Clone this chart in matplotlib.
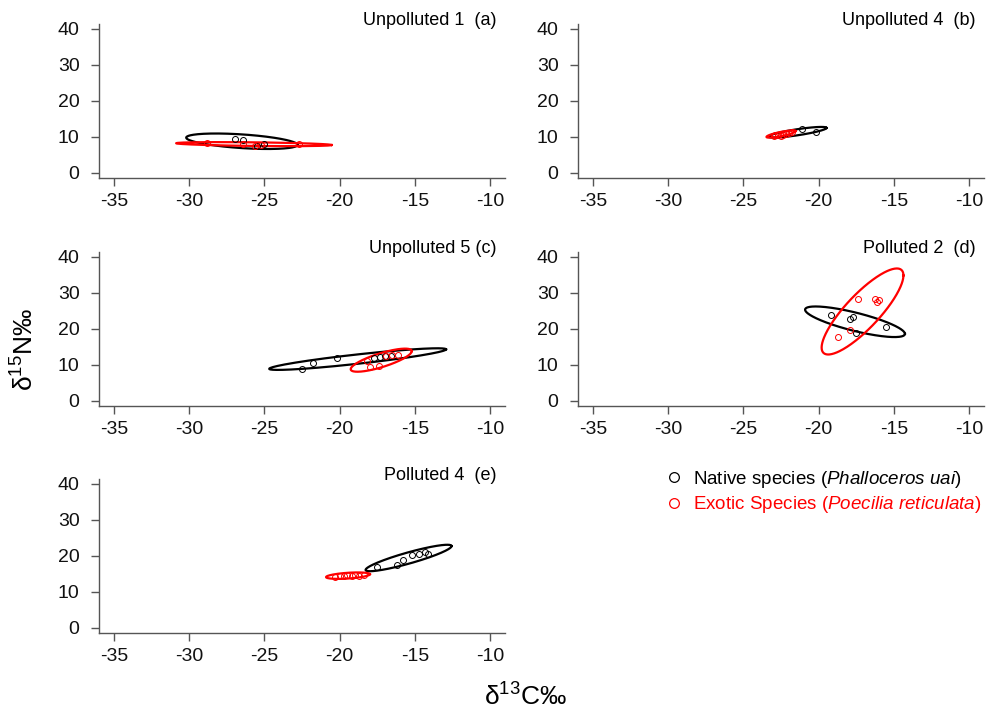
import numpy as np
import matplotlib
matplotlib.use("Agg")
import matplotlib.pyplot as plt
from matplotlib.lines import Line2D

plt.rcParams['font.family'] = ['Liberation Sans', 'DejaVu Sans']
plt.rcParams['mathtext.fontset'] = 'custom'
plt.rcParams['mathtext.rm'] = 'Liberation Sans'
plt.rcParams['mathtext.it'] = 'Liberation Sans:italic'
plt.rcParams['axes.unicode_minus'] = False

# panel titles
titles = ["Unpolluted 1  (a)", "Unpolluted 4  (b)", "Unpolluted 5 (c)",
          "Polluted 2  (d)", "Polluted 4  (e)"]

x_ticks = [-35, -30, -25, -20, -15, -10]
y_ticks = [0, 10, 20, 30, 40]

# d13C / d15N values, native (Phalloceros uai) and exotic (Poecilia reticulata)
native_a_x = [-26.95, -26.4, -25.0, -25.5]
native_a_y = [9.4, 9.1, 8.0, 7.4]
exotic_a_x = [-28.8, -26.4, -25.6, -25.2, -22.7]
exotic_a_y = [8.3, 7.9, 7.6, 7.8, 8.0]

native_b_x = [-21.1, -20.2]
native_b_y = [12.1, 11.4]
exotic_b_x = [-23.0, -22.7, -22.4, -22.2, -22.0, -21.8, -22.5, -22.9]
exotic_b_y = [10.2, 10.5, 10.6, 10.9, 11.2, 11.4, 10.2, 10.6]

native_c_x = [-22.5, -21.8, -20.2, -17.7, -17.3, -17.0, -16.6]
native_c_y = [8.8, 10.4, 12.0, 12.0, 12.3, 12.5, 12.4]
exotic_c_x = [-18.2, -18.0, -17.4, -16.9, -16.5, -16.1]
exotic_c_y = [11.0, 9.3, 9.6, 12.4, 12.7, 12.8]

native_d_x = [-19.2, -17.9, -17.7, -17.5, -15.5]
native_d_y = [23.7, 22.8, 23.4, 18.9, 20.4]
exotic_d_x = [-18.7, -17.9, -17.4, -16.25, -16.0, -16.1]
exotic_d_y = [17.6, 19.6, 28.2, 28.3, 28.0, 27.3]

native_e_x = [-17.5, -16.2, -15.8, -15.2, -14.7, -14.3, -14.1]
native_e_y = [17.0, 17.5, 18.8, 20.2, 20.4, 21.1, 20.5]
exotic_e_x = [-20.3, -20.0, -19.7, -19.5, -19.2, -19.0, -18.7, -18.4]
exotic_e_y = [14.2, 14.5, 14.3, 14.6, 14.4, 14.7, 14.5, 14.8]

# ellipses: centre x, centre y, half x-range,
# y offset at the rightmost point, half vertical chord through centre
native_ell = [[-26.5, 8.8, 3.7, -1.0, 1.9],
              [-21.4, 11.3, 1.93, 1.2, 0.85],
              [-18.8, 11.6, 5.88, 2.7, 1.3],
              [-17.58, 21.95, 3.32, -3.35, 2.6],
              [-15.41, 19.4, 2.86, 3.3, 1.6]]
exotic_ell = [[-25.7, 8.0, 5.17, -0.25, 0.5],
              [-22.5, 10.8, 0.97, 0.8, 0.6],
              [-17.23, 11.3, 2.03, 2.5, 2.0],
              [-17.08, 24.8, 2.72, 10.0, 6.5],
              [-19.44, 14.5, 1.46, 0.4, 0.8]]

native_x = [native_a_x, native_b_x, native_c_x, native_d_x, native_e_x]
native_y = [native_a_y, native_b_y, native_c_y, native_d_y, native_e_y]
exotic_x = [exotic_a_x, exotic_b_x, exotic_c_x, exotic_d_x, exotic_e_x]
exotic_y = [exotic_a_y, exotic_b_y, exotic_c_y, exotic_d_y, exotic_e_y]

fig = plt.figure(figsize=(9.98, 7.11), dpi=100)

col_left = [0.0992, 0.5792]
row_bottom = [0.7496, 0.429, 0.1097]
w, h_ax = 0.4068, 0.2166

spine_col = '#555555'
t = np.linspace(0, 2 * np.pi, 300)

for i in range(5):
    r, c = divmod(i, 2)
    ax = fig.add_axes([col_left[c], row_bottom[r], w, h_ax])
    ax.set_xlim(-36, -9)
    ax.set_ylim(-1.4, 41.3)
    for s in ['top', 'right']:
        ax.spines[s].set_visible(False)
    for s in ['left', 'bottom']:
        ax.spines[s].set_color(spine_col)
        ax.spines[s].set_linewidth(1.0)
    ax.set_xticks(x_ticks)
    ax.set_yticks(y_ticks)
    ax.tick_params(length=6, width=1.0, color=spine_col, labelsize=14,
                   labelcolor='#111111')
    ax.tick_params(axis='y', pad=8)
    ax.tick_params(axis='x', pad=5)

    for ell, col in [(native_ell[i], 'black'), (exotic_ell[i], 'red')]:
        cx, cy, dx, dy, hh = ell
        ax.plot(cx + dx * np.cos(t), cy + dy * np.cos(t) + hh * np.sin(t),
                color=col, lw=1.6)

    ax.plot(native_x[i], native_y[i], 'o', mfc='none', mec='black',
            ms=4.3, mew=0.7)
    ax.plot(exotic_x[i], exotic_y[i], 'o', mfc='none', mec='red',
            ms=4.3, mew=0.7)

    ax.text(0.98, 1.02, titles[i], transform=ax.transAxes, ha='right',
            va='center', fontsize=13)

fig.text(0.025, 0.508, 'δ$^{15}$N‰', rotation=90, ha='center', va='center',
         fontsize=19)
fig.text(0.526, 0.02, 'δ$^{13}$C‰', ha='center', va='center', fontsize=19)

handles = [Line2D([], [], ls='none', marker='o', mfc='none', mec='black',
                  ms=7, mew=0.9),
           Line2D([], [], ls='none', marker='o', mfc='none', mec='red',
                  ms=7, mew=0.9)]
labels = ['Native species ($\\it{Phalloceros\\ uai}$)',
          'Exotic Species ($\\it{Poecilia\\ reticulata}$)']
leg = fig.legend(handles, labels, loc='center left',
                 bbox_to_anchor=(0.655, 1 - 492 / 711), frameon=False,
                 fontsize=13.5, handletextpad=0.4, labelspacing=0.25,
                 handlelength=1.2, borderpad=0)
leg.get_texts()[0].set_color('black')
leg.get_texts()[1].set_color('red')

fig.savefig('out.png', dpi=100)
